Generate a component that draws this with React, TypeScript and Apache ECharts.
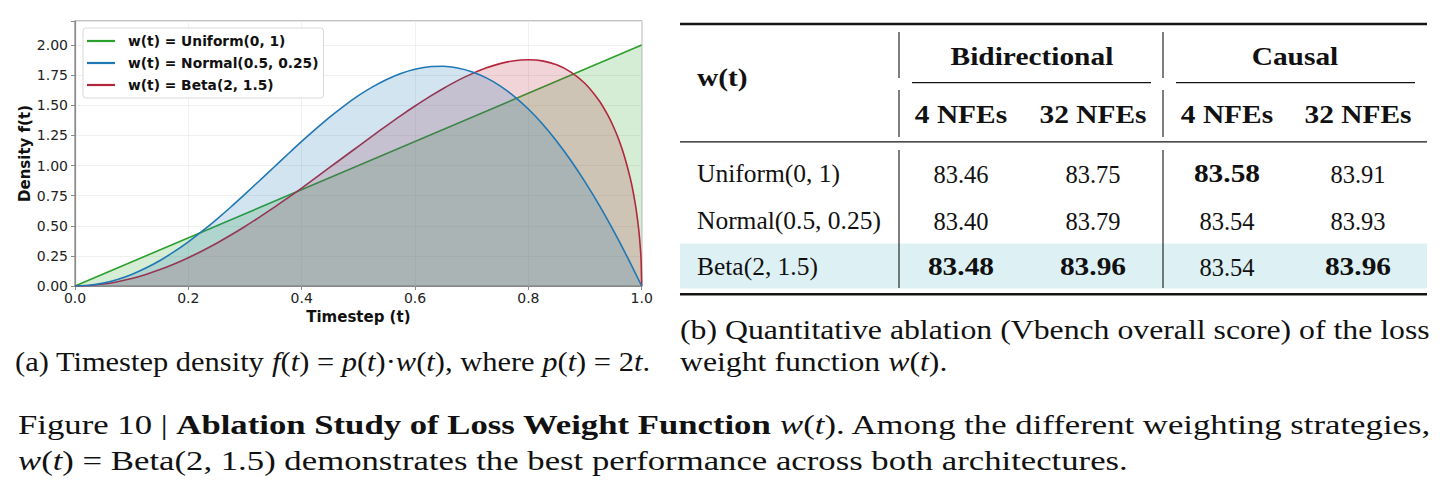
import React, { useEffect, useRef } from "react";
import * as echarts from "echarts";

const W = 1449;
const H = 492;

// ---- density f(t) = p(t) * w(t), read along t ----
const seriesNames = ["w(t) = Uniform(0, 1)", "w(t) = Normal(0.5, 0.25)", "w(t) = Beta(2, 1.5)"];
const seriesColors = ["#2ca02c", "#1f77b4", "#b3263b"];
// drawing order of the filled areas (uniform, beta, then normal on top)
const seriesZ = [2, 4, 3];

const uniformT = [0, 1];
const uniformF = [0, 2];

const normalT = [
  0, 0.025, 0.05, 0.075, 0.1, 0.125, 0.15, 0.175, 0.2, 0.225, 0.25, 0.275, 0.3, 0.325, 0.35, 0.375, 0.4, 0.425, 0.45, 0.475, 0.5,
  0.525, 0.55, 0.575, 0.6, 0.625, 0.65, 0.675, 0.7, 0.725, 0.75, 0.775, 0.8, 0.825, 0.85, 0.875, 0.9, 0.925, 0.95, 0.975, 1,
];
const normalF = [
  0, 0.006, 0.024, 0.054, 0.096, 0.149, 0.212, 0.285, 0.367, 0.457, 0.554, 0.656, 0.763, 0.872, 0.982, 1.092, 1.2, 1.304, 1.404, 1.496, 1.58,
  1.653, 1.715, 1.765, 1.8, 1.82, 1.824, 1.81, 1.779, 1.73, 1.662, 1.575, 1.469, 1.345, 1.202, 1.042, 0.864, 0.671, 0.461, 0.237, 0,
];

const betaT = [
  0, 0.025, 0.05, 0.075, 0.1, 0.125, 0.15, 0.175, 0.2, 0.225, 0.25, 0.275, 0.3, 0.325, 0.35, 0.375, 0.4, 0.425, 0.45, 0.475, 0.5,
  0.525, 0.55, 0.575, 0.6, 0.625, 0.65, 0.675, 0.7, 0.725, 0.75, 0.775, 0.8, 0.825, 0.85, 0.875, 0.9, 0.925, 0.94, 0.95, 0.96, 0.97,
  0.98, 0.985, 0.99, 0.995, 0.998, 0.999, 1,
];
const betaF = [
  0, 0.004, 0.016, 0.036, 0.062, 0.096, 0.136, 0.183, 0.235, 0.293, 0.355, 0.423, 0.494, 0.57, 0.648, 0.73, 0.813, 0.899, 0.986, 1.073, 1.16,
  1.247, 1.332, 1.415, 1.494, 1.57, 1.64, 1.705, 1.761, 1.809, 1.846, 1.87, 1.878, 1.869, 1.836, 1.776, 1.681, 1.538, 1.42, 1.324, 1.21, 1.069,
  0.891, 0.78, 0.643, 0.459, 0.292, 0.207, 0,
];

// ---- ablation table ----
const groupHeaders = ["Bidirectional", "Causal"];
const nfeHeaders = ["4 NFEs", "32 NFEs", "4 NFEs", "32 NFEs"];
const rowLabels = ["Uniform(0, 1)", "Normal(0.5, 0.25)", "Beta(2, 1.5)"];
const scoresUniform = [83.46, 83.75, 83.58, 83.91];
const scoresNormal = [83.4, 83.79, 83.54, 83.93];
const scoresBeta = [83.48, 83.96, 83.54, 83.96];
const scoreRows = [scoresUniform, scoresNormal, scoresBeta];
const highlightRow = 2;

// ---- captions (*italic*, **bold**) ----
const captionA = "(a) Timestep density *f*(*t*) = *p*(*t*)·*w*(*t*), where *p*(*t*) = 2*t*.";
const captionB1 = "(b) Quantitative ablation (Vbench overall score) of the loss";
const captionB2 = "weight function *w*(*t*).";
const figure1 = "Figure 10 | **Ablation Study of Loss Weight Function** *w*(*t*). Among the different weighting strategies,";
const figure2 = "*w*(*t*) = Beta(2, 1.5) demonstrates the best performance across both architectures.";

const SERIF = '"Liberation Serif", "Times New Roman", serif';
const SANS = '"DejaVu Sans", sans-serif';

type Seg = { t: string; b: boolean; i: boolean };

function parseMarks(s: string): Seg[] {
  const out: Seg[] = [];
  const re = /\*\*([^*]+)\*\*|\*([^*]+)\*|([^*]+)/g;
  let m: RegExpExecArray | null;
  while ((m = re.exec(s))) {
    if (m[1] !== undefined) out.push({ t: m[1], b: true, i: false });
    else if (m[2] !== undefined) out.push({ t: m[2], b: false, i: true });
    else out.push({ t: m[3], b: false, i: false });
  }
  return out;
}

let measureCtx: CanvasRenderingContext2D | null = null;
function measure(text: string, font: string): number {
  if (!measureCtx) measureCtx = document.createElement("canvas").getContext("2d");
  measureCtx!.font = font;
  return measureCtx!.measureText(text).width;
}

function fontString(b: boolean, i: boolean, size: number, family: string) {
  return `${i ? "italic" : "normal"} ${b ? "bold" : "normal"} ${size}px ${family}`;
}

interface LineOpts {
  x: number;
  y: number;
  size: number;
  align?: "left" | "center";
  width?: number;
  scale?: number;
  bold?: boolean;
  color?: string;
}

// Lays out a run of styled text pieces and returns the group plus its horizontal scale.
function textLine(src: string, o: LineOpts) {
  const segs = parseMarks(src);
  const children: any[] = [];
  let cx = 0;
  for (const s of segs) {
    const b = s.b || !!o.bold;
    const font = fontString(b, s.i, o.size, SERIF);
    const lead = s.t.length - s.t.replace(/^\s+/, "").length;
    const leadW = lead ? measure(s.t.slice(0, lead), font) : 0;
    const trimmed = s.t.trim();
    if (trimmed) {
      children.push({
        type: "text",
        x: cx + leadW,
        y: 0,
        style: {
          text: trimmed,
          fontFamily: SERIF,
          fontSize: o.size,
          fontWeight: b ? "bold" : "normal",
          fontStyle: s.i ? "italic" : "normal",
          fill: o.color || "#111",
          align: "left",
          verticalAlign: "middle",
        },
      });
    }
    cx += measure(s.t, font);
  }
  const sc = o.width ? o.width / cx : o.scale ?? 1;
  const left = o.align === "center" ? o.x - (cx * sc) / 2 : o.x;
  return { group: { type: "group", x: left, y: o.y, scaleX: sc, children }, scale: sc };
}

function buildGraphics() {
  const g: any[] = [];
  const L = 680;
  const R = 1427;
  const ink = "#151515";
  const hline = (x1: number, x2: number, y: number, w: number) =>
    g.push({ type: "line", shape: { x1, y1: y, x2, y2: y }, style: { stroke: ink, lineWidth: w } });
  const vline = (x: number, y1: number, y2: number) =>
    g.push({ type: "line", shape: { x1: x, y1, x2: x, y2 }, style: { stroke: ink, lineWidth: 1.1 } });

  const rowY = [174, 221, 267];
  // highlighted row background
  g.push({
    type: "rect",
    shape: { x: L, y: rowY[highlightRow] - 23.5, width: R - L, height: 45 },
    style: { fill: "#ddf0f3" },
  });

  // rules
  hline(L, R, 24, 2.3);
  hline(L, R, 141.8, 1.3);
  hline(L, R, 294.3, 2.4);
  hline(912, 1151, 82.6, 1.1);
  hline(1176, 1415, 82.6, 1.1);
  for (const x of [899, 1163]) {
    vline(x, 32, 78);
    vline(x, 90, 137);
    vline(x, 150, 288);
  }

  const colX = [961, 1093, 1227, 1358];
  const groupX = [1032, 1295];
  const BOLD_SCALE = 1.2;
  const size = 24.5;

  g.push(textLine("w(t)", { x: 697, y: 78, size, bold: true, scale: BOLD_SCALE }).group);
  groupHeaders.forEach((h, k) => g.push(textLine(h, { x: groupX[k], y: 57, size, bold: true, align: "center", scale: BOLD_SCALE }).group));
  nfeHeaders.forEach((h, k) => g.push(textLine(h, { x: colX[k], y: 115, size, bold: true, align: "center", scale: BOLD_SCALE }).group));

  rowLabels.forEach((lab, r) => {
    g.push(textLine(lab, { x: 697, y: rowY[r], size, scale: 1.04 }).group);
  });

  for (let c = 0; c < colX.length; c++) {
    const col = scoreRows.map((row) => row[c]);
    const best = Math.max(...col);
    scoreRows.forEach((row, r) => {
      const isBest = row[c] === best;
      g.push(
        textLine(row[c].toFixed(2), {
          x: colX[c],
          y: rowY[r],
          size,
          bold: isBest,
          align: "center",
          scale: isBest ? BOLD_SCALE : 1.0,
        }).group
      );
    });
  }

  // captions
  const capSize = 27;
  g.push(textLine(captionA, { x: 15, y: 362, size: capSize, width: 635 }).group);
  const b1 = textLine(captionB1, { x: 680, y: 330, size: capSize, width: 750 });
  g.push(b1.group);
  g.push(textLine(captionB2, { x: 680, y: 362, size: capSize, scale: b1.scale }).group);
  const f1 = textLine(figure1, { x: 18, y: 425, size: capSize, width: 1414 });
  g.push(f1.group);
  g.push(textLine(figure2, { x: 18, y: 461, size: capSize, scale: f1.scale }).group);

  return g;
}

function pairs(t: number[], f: number[]) {
  return t.map((x, k) => [x, f[k]]);
}

export default function App() {
  const ref = useRef<HTMLDivElement>(null);

  useEffect(() => {
    document.body.style.margin = "0";
    if (!ref.current) return;
    const chart = echarts.init(ref.current, null, { renderer: "svg", width: W, height: H });

    const curves = [pairs(uniformT, uniformF), pairs(normalT, normalF), pairs(betaT, betaF)];

    const axisGray = "#8a8a8a";
    const tickText = { fontFamily: SANS, fontSize: 14, color: "#222" };

    chart.setOption({
      animation: false,
      backgroundColor: "#ffffff",
      grid: {
        left: 75,
        top: 21,
        width: 566.7,
        height: 265,
        show: true,
        borderColor: axisGray,
        borderWidth: 1.2,
        backgroundColor: "transparent",
      },
      legend: {
        data: seriesNames,
        left: 83,
        top: 28,
        orient: "vertical",
        icon: "rect",
        itemWidth: 28,
        itemHeight: 2.2,
        itemGap: 6,
        padding: [5, 5, 5, 4],
        backgroundColor: "rgba(255,255,255,0.85)",
        borderColor: "#d9d9d9",
        borderWidth: 1,
        borderRadius: 3,
        textStyle: {
          fontFamily: SANS,
          fontWeight: "bold",
          fontSize: 13.8,
          color: "#111",
          lineHeight: 16,
          padding: [0, 0, 0, 8],
        },
      },
      xAxis: {
        type: "value",
        min: 0,
        max: 1,
        interval: 0.2,
        axisLine: { show: true, lineStyle: { color: axisGray, width: 1.2 } },
        axisTick: { show: true, length: 4, lineStyle: { color: axisGray } },
        axisLabel: { ...tickText, margin: 5, formatter: (v: number) => v.toFixed(1) },
        splitLine: { show: true, lineStyle: { color: "#ececec", width: 0.8 } },
        name: "Timestep (t)",
        nameLocation: "middle",
        nameGap: 20,
        nameTextStyle: { fontFamily: SANS, fontWeight: "bold", fontSize: 15, color: "#111" },
      },
      yAxis: {
        type: "value",
        min: 0,
        max: 2.2,
        interval: 0.25,
        axisLine: { show: true, lineStyle: { color: axisGray, width: 1.2 } },
        axisTick: { show: true, length: 4, lineStyle: { color: axisGray } },
        axisLabel: {
          ...tickText,
          margin: 7,
          formatter: (v: number) => (v > 2.05 ? "" : v.toFixed(2)),
        },
        splitLine: { show: true, lineStyle: { color: "#ececec", width: 0.8 } },
        name: "Density f(t)",
        nameLocation: "middle",
        nameGap: 42,
        nameTextStyle: { fontFamily: SANS, fontWeight: "bold", fontSize: 15, color: "#111" },
      },
      series: seriesNames.map((name, k) => ({
        name,
        type: "line",
        data: curves[k],
        color: seriesColors[k],
        showSymbol: false,
        symbol: "none",
        smooth: k === 0 ? false : 0.25,
        lineStyle: { color: seriesColors[k], width: 1.6 },
        areaStyle: { color: seriesColors[k], opacity: 0.2, origin: "start" },
        z: seriesZ[k],
      })),
      graphic: buildGraphics(),
    });

    return () => chart.dispose();
  }, []);

  return <div ref={ref} style={{ width: W, height: H }} />;
}
